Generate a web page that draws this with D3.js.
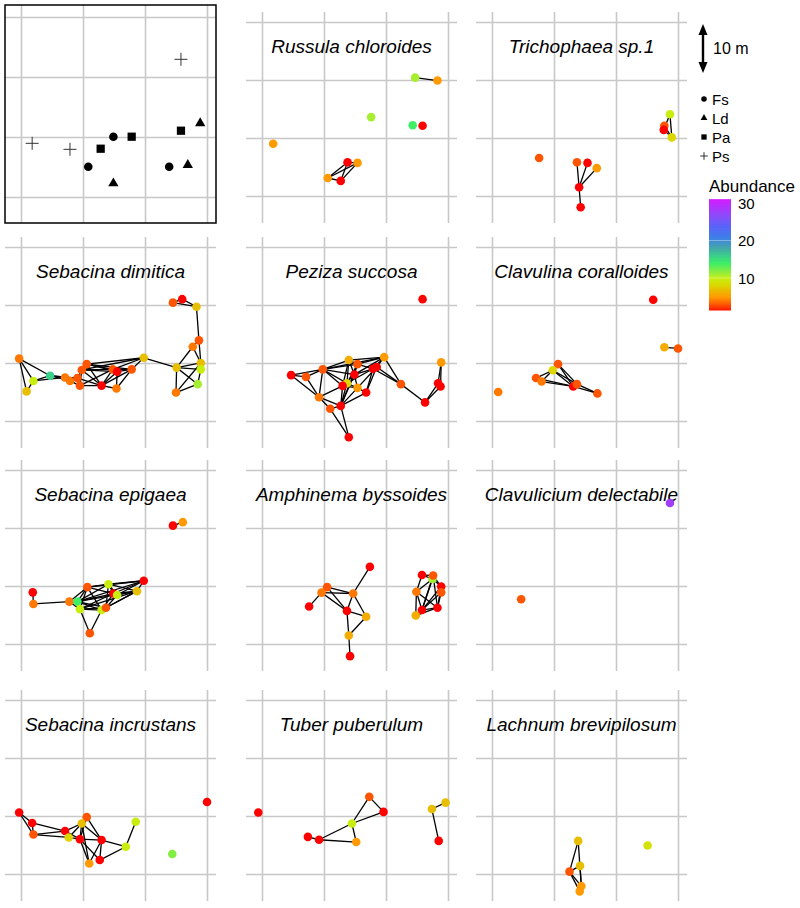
<!DOCTYPE html>
<html><head><meta charset="utf-8">
<script src="https://cdn.jsdelivr.net/npm/d3@7"></script>
<style>body{margin:0;background:#fff}svg{display:block}text{font-family:"Liberation Sans",Arial,sans-serif}</style>
</head><body>
<svg id="c" width="800" height="908"></svg>
<script>
// ---------- data ----------
const gridTicks = [0, 1, 2, 3];
const colorTicks = [10, 20, 30];
const hostNames = ["Fs", "Ld", "Pa", "Ps"];

// site map: trees
const siteX  = [2.58, 2.89, 2.58, 1.49, 1.785, 0.18, 0.79, 1.285, 1.085, 2.39, 2.69, 1.49];
const siteY  = [2.295, 1.23, 1.105, 1.005, 1.005, 0.895, 0.795, 0.805, 0.505, 0.505, 0.533, 0.228];
const siteSp = ["Ps", "Ld", "Pa", "Fs", "Pa", "Ps", "Ps", "Pa", "Fs", "Fs", "Ld", "Ld"];

const speciesNames = ["Russula chloroides", "Trichophaea sp.1", "Sebacina dimitica", "Peziza succosa",
  "Clavulina coralloides", "Sebacina epigaea", "Amphinema byssoides", "Clavulicium delectabile",
  "Sebacina incrustans", "Tuber puberulum", "Lachnum brevipilosum"];

// points: [x, y, abundance]; links: [i, j]
const russula = [[2.47,2.04,11],[2.83,1.99,5],[1.76,1.36,11],[2.43,1.22,14],[2.59,1.21,1],[0.18,0.90,5],
  [1.38,0.58,1],[1.54,0.57,5],[1.06,0.31,5],[1.27,0.26,1]];
const russulaLinks = [[0,1],[6,8],[6,9],[7,8],[7,9],[8,9],[6,7]];

const tricho = [[2.87,1.41,10],[2.78,1.21,3],[2.77,1.14,1],[2.90,1.01,8],[0.76,0.655,3],[1.37,0.58,3],
  [1.54,0.57,1],[1.69,0.48,5],[1.405,0.15,1],[1.43,-0.195,1]];
const trichoLinks = [[0,2],[0,3],[1,3],[2,3],[5,8],[6,8],[7,8],[8,9]];

const sebDim = [[2.45,2.04,3],[2.60,2.10,1],[2.83,1.97,7],[2.87,1.39,3],[2.77,1.28,4],[1.98,1.09,7],
  [-0.03,1.075,4],[2.51,0.92,7],[2.90,1.00,7],[2.90,0.89,10],[2.85,0.635,11],[2.50,0.49,4],
  [0.20,0.69,10],[0.09,0.51,7],[0.47,0.78,16],[0.71,0.75,4],[0.79,0.69,4],[0.91,0.74,3],
  [0.98,0.88,3],[1.06,0.98,3],[0.95,0.61,3],[1.30,0.61,1],[1.48,0.89,3],[1.55,0.85,1],
  [1.785,0.89,3],[1.54,0.56,4]];
const sebDimLinks = [[0,1],[1,2],[0,2],[2,3],[3,4],[3,8],[4,7],[4,8],[7,8],[7,9],[7,10],[7,11],[8,9],
  [9,10],[11,10],[11,8],[5,7],[5,24],[5,22],[5,19],[5,18],[6,12],[6,13],[6,14],[12,13],[12,14],[12,15],
  [14,15],[14,17],[14,16],[15,16],[15,17],[16,17],[16,20],[17,18],[17,20],[17,21],[18,19],[18,20],[18,21],
  [18,22],[19,22],[19,23],[19,21],[20,21],[21,22],[21,23],[21,25],[22,23],[22,24],[23,24],[24,25],[23,25],
  [19,24],[20,22],[18,23],[21,24]];

const peziza = [[2.59,2.10,1],[1.40,1.05,6],[1.54,0.98,3],[1.97,1.10,5],[1.79,0.90,1],[1.85,0.93,1],
  [1.49,0.80,1],[0.98,0.89,3],[0.47,0.79,1],[0.71,0.76,3],[1.37,0.65,8],[1.30,0.605,1],[1.54,0.57,5],
  [1.68,0.49,1],[2.24,0.635,3],[0.92,0.41,4],[1.10,0.21,3],[1.27,0.26,1],[1.40,-0.28,1],[2.63,0.32,1],
  [2.89,1.01,5],[2.84,0.65,1],[2.88,0.595,1]];
const pezizaLinks = [[20,21],[20,22],[21,22],[21,19],[22,19],[19,14],[14,3],[14,4],[14,5],[3,1],[3,2],
  [3,4],[3,5],[3,6],[1,7],[7,3],[7,8],[7,9],[8,9],[8,15],[9,15],[7,15],[7,6],[7,10],[7,11],[7,2],[15,16],
  [15,17],[15,11],[16,17],[16,18],[17,18],[17,11],[17,10],[17,12],[17,6],[17,2],[13,5],[13,4],[13,12],
  [13,17],[1,6],[1,10],[1,11],[2,6],[2,4],[2,10],[6,4],[6,12],[6,11],[10,12],[10,4],[11,12],[12,5],[4,5],[1,2]];

const clavulina = [[2.60,2.09,1],[2.78,1.27,6],[3.00,1.25,3],[1.065,0.98,3],[0.98,0.875,8],[0.71,0.74,3],
  [0.80,0.68,4],[1.31,0.595,1],[1.37,0.635,3],[1.70,0.475,3],[0.10,0.50,4]];
const clavulinaLinks = [[1,2],[3,4],[3,7],[3,8],[4,5],[4,6],[4,7],[4,8],[5,6],[5,7],[6,7],[7,8],[7,9],[8,9]];

const sebEpi = [[2.45,2.04,1],[2.61,2.10,5],[1.98,1.09,1],[1.87,0.91,7],[1.41,1.03,10],[1.07,0.98,3],
  [1.49,0.87,1],[1.55,0.845,10],[0.19,0.89,1],[0.20,0.69,4],[0.78,0.73,4],[0.91,0.73,14],[0.95,0.60,10],
  [1.30,0.585,10],[1.37,0.625,3],[1.11,0.185,3]];
const sebEpiLinks = [[0,1],[8,9],[9,10],[10,11],[10,5],[10,12],[11,5],[11,4],[11,6],[11,12],[11,13],[11,14],
  [11,2],[11,3],[12,5],[12,13],[12,14],[12,15],[13,15],[5,4],[5,2],[5,6],[5,13],[4,2],[4,3],[4,6],[4,7],
  [2,3],[2,6],[2,7],[3,6],[3,7],[3,13],[3,14],[6,7],[6,13],[7,14],[13,14],[12,3],[12,6],[4,14]];

const amphinema = [[1.74,1.33,1],[1.05,0.98,3],[0.96,0.885,4],[1.47,0.87,4],[0.76,0.645,1],[1.37,0.57,1],
  [1.68,0.47,6],[1.40,0.145,6],[1.42,-0.21,1],[2.58,1.19,1],[2.75,1.12,11],[2.76,1.18,3],[2.89,0.99,1],
  [2.49,0.90,4],[2.89,0.89,3],[2.58,0.585,1],[2.83,0.625,1],[2.48,0.49,6]];
const amphinemaLinks = [[0,3],[1,2],[1,3],[2,3],[2,4],[2,5],[1,5],[3,5],[3,6],[5,6],[5,7],[6,7],[7,8],
  [9,13],[9,10],[9,11],[10,11],[10,12],[11,12],[10,13],[10,15],[11,15],[12,14],[12,15],[12,16],[13,15],
  [13,17],[14,16],[14,15],[15,16],[15,17],[16,17],[13,16],[11,16]];

const clavulicium = [[2.87,2.43,28],[0.47,0.77,3]];
const clavuliciumLinks = [];

const sebInc = [[3.00,1.24,1],[-0.03,1.06,1],[0.18,0.88,1],[0.20,0.68,3],[0.71,0.74,1],[0.77,0.63,8],
  [1.06,0.98,3],[0.98,0.87,7],[0.95,0.60,1],[1.30,0.585,1],[1.10,0.18,5],[1.27,0.24,1],[1.69,0.47,10],
  [1.85,0.90,10],[2.44,0.345,12]];
const sebIncLinks = [[1,2],[1,3],[2,3],[2,4],[3,4],[3,5],[4,5],[4,7],[5,7],[5,8],[6,7],[6,8],[6,9],[7,8],
  [7,9],[7,10],[8,9],[8,10],[8,11],[9,10],[9,11],[9,12],[11,12],[12,13],[4,8]];

const tuber = [[-0.06,1.06,1],[1.73,1.33,3],[1.96,1.07,1],[1.45,0.87,10],[0.74,0.64,1],[0.92,0.59,1],
  [1.52,0.55,5],[2.74,1.12,7],[2.96,1.23,7],[2.85,0.57,1]];
const tuberLinks = [[1,2],[1,3],[2,3],[3,5],[3,6],[5,6],[4,5],[7,8],[7,9]];

const lachnum = [[1.39,0.57,7],[1.42,0.14,7],[1.25,0.04,3],[1.44,-0.21,5],[1.415,-0.30,5],[2.51,0.49,9]];
const lachnumLinks = [[0,2],[0,3],[1,3],[2,3],[2,4],[1,2]];

const speciesPoints = [russula, tricho, sebDim, peziza, clavulina, sebEpi, amphinema, clavulicium, sebInc, tuber, lachnum];
const speciesLinks = [russulaLinks, trichoLinks, sebDimLinks, pezizaLinks, clavulinaLinks, sebEpiLinks,
  amphinemaLinks, clavuliciumLinks, sebIncLinks, tuberLinks, lachnumLinks];

// colour ramp for abundance
const colorStops = [1, 3, 5, 7, 8, 10, 11, 14, 16, 18, 21, 24, 27, 31];
const colorValues = ["#FF0000","#FF5500","#FF9A00","#E8BE00","#DDD600","#C8EE10","#A6EE30","#3DEE66",
  "#3AD08A","#44A8A8","#3E7DEB","#5C62F8","#9048FA","#D21EFF"];

// ---------- drawing ----------
const svg = d3.select("#c");
const color = d3.scaleLinear().domain(colorStops).range(colorValues).clamp(true);
const colLeft = [5, 246, 476];
const rowTop = [12, 237, 460, 690];
const W = 211, H = 211;
const xDom = [-0.258, 3.145];

function grid(g, x, y, left, top, w, h) {
  const gxA = g.append("g").attr("transform", `translate(0,${top})`)
    .call(d3.axisBottom(x).tickValues(gridTicks).tickSize(h).tickFormat(""));
  const gyA = g.append("g").attr("transform", `translate(${left},0)`)
    .call(d3.axisRight(y).tickValues(gridTicks).tickSize(w).tickFormat(""));
  [gxA, gyA].forEach(a => {
    a.select(".domain").remove();
    a.selectAll("line").attr("stroke", "#c8c8c8").attr("stroke-width", 1.6);
  });
}

const plusPath = r => `M${-r},0H${r}M0,${-r}V${r}`;
const hostSymbol = {
  Fs: d3.symbol().type(d3.symbolCircle).size(58)(),
  Ld: d3.symbol().type(d3.symbolTriangle).size(46)(),
  Pa: d3.symbol().type(d3.symbolSquare).size(68)(),
  Ps: plusPath(6.5)
};

// panel 1: site map
{
  const left = 5, top = 5, w = 211, h = 218;
  const x = d3.scaleLinear().domain(xDom).range([left, left + w]);
  const y = d3.scaleLinear().domain([-0.433, 3.2]).range([top + h, top]);
  const g = svg.append("g");
  grid(g, x, y, left, top, w, h);
  g.selectAll("path.site").data(siteX.map((v, i) => ({x: v, y: siteY[i], s: siteSp[i]})))
    .join("path")
    .attr("transform", d => `translate(${x(d.x)},${y(d.y)})`)
    .attr("d", d => hostSymbol[d.s])
    .attr("fill", d => d.s === "Ps" ? "none" : "#000")
    .attr("stroke", d => d.s === "Ps" ? "#333" : "none")
    .attr("stroke-width", 1);
  g.append("rect").attr("x", left).attr("y", top).attr("width", w).attr("height", h)
    .attr("fill", "none").attr("stroke", "#000").attr("stroke-width", 1.5);
}

// species panels
speciesNames.forEach((name, i) => {
  const slot = i + 1;
  const left = colLeft[slot % 3], top = rowTop[Math.floor(slot / 3)];
  const x = d3.scaleLinear().domain(xDom).range([left, left + W]);
  const y = d3.scaleLinear().domain([-0.466, 3.172]).range([top + H, top]);
  const g = svg.append("g");
  grid(g, x, y, left, top, W, H);
  g.append("text").attr("x", left + W / 2).attr("y", top + 40.5).attr("text-anchor", "middle")
    .attr("font-size", 19).attr("font-style", "italic").attr("fill", "#000").text(name);
  const pts = speciesPoints[i];
  g.selectAll("line.link").data(speciesLinks[i]).join("line")
    .attr("x1", d => x(pts[d[0]][0])).attr("y1", d => y(pts[d[0]][1]))
    .attr("x2", d => x(pts[d[1]][0])).attr("y2", d => y(pts[d[1]][1]))
    .attr("stroke", "#000").attr("stroke-width", 1.3);
  g.selectAll("circle.pt").data(pts).join("circle")
    .attr("cx", d => x(d[0])).attr("cy", d => y(d[1])).attr("r", 4.3)
    .attr("fill", d => color(d[2]));
});

// legend: scale bar
{
  const g = svg.append("g");
  const ax = 703, y0 = 24, y1 = 73;
  g.append("line").attr("x1", ax).attr("x2", ax).attr("y1", y0 + 8).attr("y2", y1 - 8)
    .attr("stroke", "#000").attr("stroke-width", 2.4);
  g.append("path").attr("d", `M${ax},${y0}L${ax - 4.5},${y0 + 11}L${ax + 4.5},${y0 + 11}Z`).attr("fill", "#000");
  g.append("path").attr("d", `M${ax},${y1}L${ax - 4.5},${y1 - 11}L${ax + 4.5},${y1 - 11}Z`).attr("fill", "#000");
  g.append("text").attr("x", 713).attr("y", 53.5).attr("font-size", 16).text("10 m");

  const legSym = {
    Fs: d3.symbol().type(d3.symbolCircle).size(24)(),
    Ld: d3.symbol().type(d3.symbolTriangle).size(20)(),
    Pa: d3.symbol().type(d3.symbolSquare).size(28)(),
    Ps: plusPath(3.8)
  };
  const ly = d3.scalePoint().domain(hostNames).range([99, 156]);
  hostNames.forEach(h => {
    g.append("path").attr("transform", `translate(704,${ly(h)})`).attr("d", legSym[h])
      .attr("fill", h === "Ps" ? "none" : "#000").attr("stroke", h === "Ps" ? "#333" : "none");
    g.append("text").attr("x", 712).attr("y", ly(h) + 5.5).attr("font-size", 15).text(h);
  });

  // colour bar
  g.append("text").attr("x", 709).attr("y", 191.5).attr("font-size", 17).text("Abundance");
  const cb = d3.scaleLinear().domain([0, 30]).range([315.5, 203]);
  const vals = d3.range(1.5, 31, 0.1);
  g.selectAll("rect.cb").data(vals).join("rect")
    .attr("x", 709).attr("width", 22)
    .attr("y", d => cb(d + 0.1)).attr("height", d => cb(d) - cb(d + 0.1) + 0.6)
    .attr("fill", d => color(d));
  g.selectAll("line.cbt").data(colorTicks.slice(0, 2)).join("line")
    .attr("x1", 709).attr("x2", 731).attr("y1", d => cb(d)).attr("y2", d => cb(d))
    .attr("stroke", "#fff").attr("stroke-opacity", 0.35).attr("stroke-width", 1);
  g.selectAll("text.cbl").data(colorTicks).join("text")
    .attr("x", 738).attr("y", d => cb(d) + 5.5).attr("font-size", 15).text(d => d);
}
</script>
</body></html>
